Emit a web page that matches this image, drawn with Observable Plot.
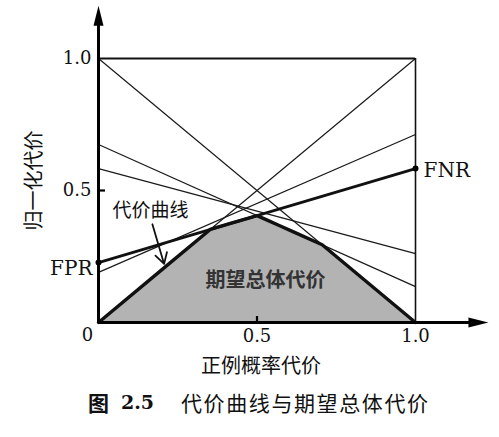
<!DOCTYPE html>
<html>
<head>
<meta charset="utf-8">
<script src="https://cdn.jsdelivr.net/npm/d3@7"></script>
<script src="https://cdn.jsdelivr.net/npm/@observablehq/plot@0.6"></script>
<style>
  html, body { margin: 0; padding: 0; background: #fff; }
  #caption { position: relative; height: 52px; font-family: "Noto Sans CJK SC", sans-serif; font-size: 21px; color: #111; }
  #caption .fig { position: absolute; left: 88px; top: 2px; font-weight: bold; }
  #caption .num { position: absolute; left: 121px; top: 6px; font-family: "DejaVu Serif", serif; font-weight: bold; font-size: 19px; }
  #caption .txt { position: absolute; left: 181px; top: 2px; letter-spacing: 1.6px; }
</style>
</head>
<body>
<div id="chart"></div>
<div id="caption"><span class="fig">图</span><span class="num">2.5</span><span class="txt">代价曲线与期望总体代价</span></div>
<script>
// ---- data ----
// each classifier: normalized cost at positive-probability-cost 0 (FPR) and at 1 (FNR)
const lineLeft  = [1.0, 0.674, 0.583, 0.19, 0.227, 0.0];
const lineRight = [0.0, 0.136, 0.261, 0.712, 0.583, 1.0];
const highlighted = 4;              // the FPR–FNR line drawn thick
const xDomain = [0, 1];
const yDomain = [0, 1];
const yTicks = [0.5, 1.0];
const yTickLabels = ["0.5", "1.0"];
const xTicks = [0.5, 1.0];
const xTickLabels = ["0.5", "1.0"];
const originLabel = ["0"];
const axisExtentX = 1.23;           // x-axis arrow extends past 1.0
const axisExtentY = 1.20;           // y-axis arrow extends past 1.0
const yLabel = "归一化代价";
const xLabel = "正例概率代价";
const curveLabel = "代价曲线";
const areaLabel = "期望总体代价";
// annotation anchors (data units)
const curveLabelPos = {x: 0.164, y: 0.424};
const curveArrow = {x1: 0.170, y1: 0.372, x2: 0.207, y2: 0.222};
const areaLabelPos = {x: 0.527, y: 0.160};

// ---- derived ----
const lines = lineLeft.map((a, i) => ({a, b: lineRight[i], i}));
const val = (l, x) => l.a + (l.b - l.a) * x;
let xs = [xDomain[0], xDomain[1]];
for (let i = 0; i < lines.length; i++) for (let j = i + 1; j < lines.length; j++) {
  const d = (lines[i].b - lines[i].a) - (lines[j].b - lines[j].a);
  if (d !== 0) {
    const x = (lines[j].a - lines[i].a) / d;
    if (x > 0 && x < 1) xs.push(x);
  }
}
xs = Array.from(new Set(xs)).sort((p, q) => p - q);
const envelope = xs.map(x => ({x, y: d3.min(lines, l => val(l, x))}));

const thin = lines.filter(l => l.i !== highlighted);
const thick = lines.filter(l => l.i === highlighted);
const endpoints = [
  {x: xDomain[0], y: thick[0].a, name: "FPR"},
  {x: xDomain[1], y: thick[0].b, name: "FNR"}
];

// filled arrowhead symbol, tip at origin, pointing up
const arrowHead = {
  draw(context) {
    context.moveTo(0, 0);
    context.lineTo(5, 20);
    context.lineTo(-5, 20);
    context.closePath();
  }
};

const cjk = "Noto Sans CJK SC";
const chart = Plot.plot({
  width: 499,
  height: 385,
  marginLeft: 98,
  marginRight: 84,
  marginTop: 58,
  marginBottom: 63,
  x: {domain: xDomain, axis: null},
  y: {domain: yDomain, axis: null},
  style: {fontFamily: "DejaVu Serif", background: "#fff", color: "#111"},
  marks: [
    Plot.areaY(envelope, {x: "x", y: "y", fill: "#b3b3b3"}),
    Plot.link(thin, {x1: () => xDomain[0], x2: () => xDomain[1], y1: "a", y2: "b", stroke: "#1a1a1a", strokeWidth: 1.2}),
    Plot.ruleY([yDomain[1]], {stroke: "#111", strokeWidth: 2.2}),
    Plot.ruleX([xDomain[1]], {stroke: "#111", strokeWidth: 1.6}),
    Plot.link(thick, {x1: () => xDomain[0], x2: () => xDomain[1], y1: "a", y2: "b", stroke: "#111", strokeWidth: 2.8}),
    Plot.line(envelope, {x: "x", y: "y", stroke: "#111", strokeWidth: 3.4, strokeLinejoin: "round"}),
    // axes
    Plot.link([0], {x1: () => xDomain[0], x2: () => xDomain[0], y1: () => yDomain[0], y2: () => axisExtentY - 0.05, stroke: "#000", strokeWidth: 3}),
    Plot.link([0], {x1: () => xDomain[0], x2: () => axisExtentX - 0.04, y1: () => yDomain[0], y2: () => yDomain[0], stroke: "#000", strokeWidth: 3}),
    Plot.dot([0], {x: () => xDomain[0], y: () => axisExtentY, symbol: arrowHead, r: 5, fill: "#000", stroke: null}),
    Plot.dot([0], {x: () => axisExtentX, y: () => yDomain[0], symbol: arrowHead, r: 5, fill: "#000", stroke: null, rotate: 90}),
    // ticks
    Plot.tickY(yTicks.filter(t => t < 1), {y: d => d, stroke: "#000", strokeWidth: 2.2, insetRight: 310}),
    Plot.tickX(xTicks.filter(t => t < 1), {x: d => d, stroke: "#000", strokeWidth: 2.2, insetTop: 258}),
    Plot.text(yTicks, {x: () => xDomain[0], y: d => d, text: (d, i) => yTickLabels[i], textAnchor: "end", dx: -7, fontSize: 18, fill: "#111"}),
    Plot.text(xTicks, {x: d => d, y: () => yDomain[0], text: (d, i) => xTickLabels[i], dy: 14, fontSize: 18, fill: "#111"}),
    Plot.text(originLabel, {x: () => xDomain[0], y: () => yDomain[0], text: d => d, dx: -11, dy: 13, fontSize: 18, fill: "#111"}),
    // axis titles
    Plot.text([yLabel], {frameAnchor: "left", text: d => d, rotate: -90, textAnchor: "middle", lineAnchor: "middle", dx: -64, dy: -10, fontSize: 20, fontFamily: cjk, fill: "#111"}),
    Plot.text([xLabel], {frameAnchor: "bottom", text: d => d, textAnchor: "middle", lineAnchor: "middle", dy: 44, dx: 4, fontSize: 20, fontFamily: cjk, fill: "#111"}),
    // FPR / FNR
    Plot.dot(endpoints, {x: "x", y: "y", r: 3, fill: "#000", stroke: null}),
    Plot.text(endpoints.filter(d => d.name === "FPR"), {x: "x", y: "y", text: "name", textAnchor: "end", dx: -6, dy: 6, fontSize: 20, fill: "#111"}),
    Plot.text(endpoints.filter(d => d.name === "FNR"), {x: "x", y: "y", text: "name", textAnchor: "start", dx: 8, dy: 2, fontSize: 20, fill: "#111"}),
    // annotations
    Plot.text([curveLabel], {x: () => curveLabelPos.x, y: () => curveLabelPos.y, text: d => d, fontSize: 19, fontFamily: cjk, fill: "#111"}),
    Plot.arrow([curveArrow], {x1: "x1", y1: "y1", x2: "x2", y2: "y2", stroke: "#111", strokeWidth: 1.8, headLength: 10}),
    Plot.text([areaLabel], {x: () => areaLabelPos.x, y: () => areaLabelPos.y, text: d => d, fontSize: 20, fontFamily: cjk, fill: "#333", fontWeight: "bold"})
  ]
});
document.getElementById("chart").append(chart);
</script>
</body>
</html>
